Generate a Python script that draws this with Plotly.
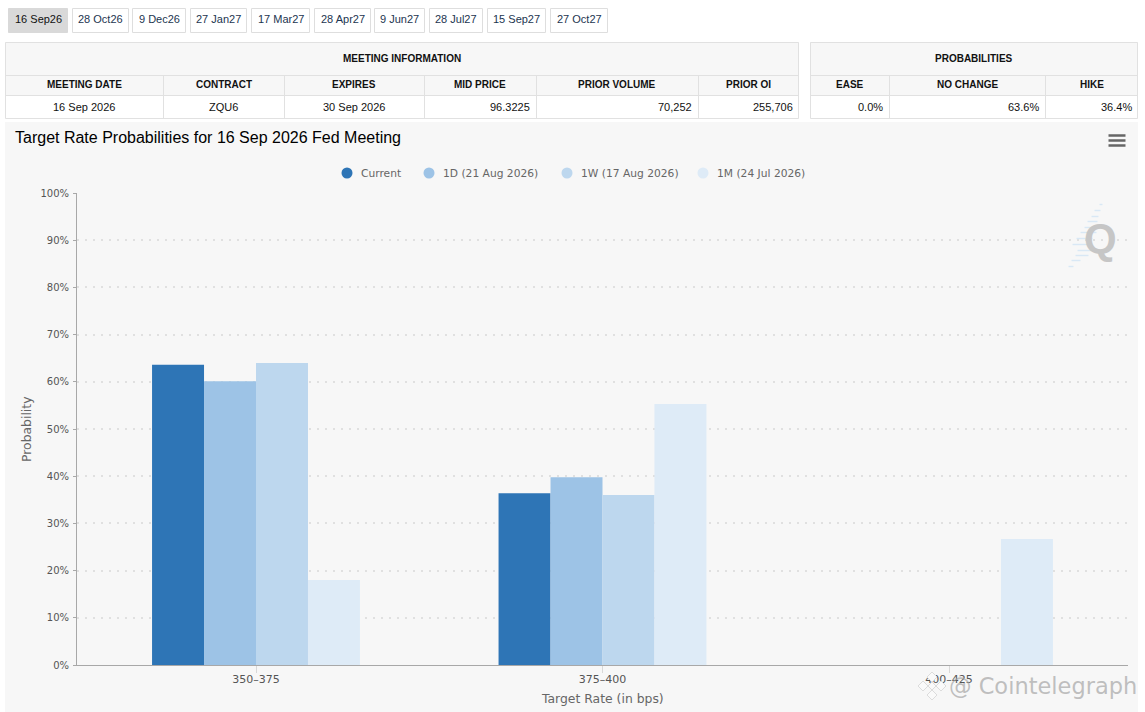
import plotly.graph_objects as go

# meeting tabs
meetings = ["16 Sep26", "28 Oct26", "9 Dec26", "27 Jan27", "17 Mar27", "28 Apr27", "9 Jun27", "28 Jul27", "15 Sep27", "27 Oct27"]
tab_edges = [(8, 68), (72, 129), (132, 186), (190, 247), (251, 310), (314, 371), (374, 425), (429, 483), (487, 546), (550, 608)]

# tables
info_heads = ["MEETING DATE", "CONTRACT", "EXPIRES", "MID PRICE", "PRIOR VOLUME", "PRIOR OI"]
info_cells = ["16 Sep 2026", "ZQU6", "30 Sep 2026", "96.3225", "70,252", "255,706"]
info_align = ["center", "center", "center", "right", "right", "right"]
info_cols = [5, 163, 284, 424, 536, 698, 799]
prob_heads = ["EASE", "NO CHANGE", "HIKE"]
prob_cells = ["0.0%", "63.6%", "36.4%"]
prob_cols = [810, 889, 1045, 1138]

# chart data
rates = ["350–375", "375–400", "400–425"]
current = [63.6, 36.4, 0]
day_1 = [60.1, 39.8, 0]
week_1 = [64.0, 36.0, 0]
month_1 = [18.0, 55.3, 26.7]

series_names = ["Current", "1D (21 Aug 2026)", "1W (17 Aug 2026)", "1M (24 Jul 2026)"]
series_vals = [current, day_1, week_1, month_1]
colors = ["#2e75b6", "#9dc3e6", "#bdd7ee", "#deebf7"]
legend_dots = [347, 429, 567, 703]

L, R, T, B = 77, 1128, 193, 665
W, H = 1145, 712


def px_x(p):
    return (p - L) / (R - L)


def px_y(p):
    return (B - p) / (B - T)


shapes = []
notes = []


def box(x0, y0, x1, y1, fill=None, line=None, layer="below", width=1):
    # half pixel offset keeps 1px borders crisp
    off = 0.5 if line else 0
    shapes.append(dict(type="rect", xref="paper", yref="paper", layer=layer,
                       x0=px_x(x0 + off), x1=px_x(x1 + off), y0=px_y(y0 + off), y1=px_y(y1 + off),
                       fillcolor=fill or "rgba(0,0,0,0)",
                       line=dict(color=line or "rgba(0,0,0,0)", width=width if line else 0)))


def seg(x0, y0, x1, y1, color="#e1e1e1", width=1, layer="below"):
    shapes.append(dict(type="line", xref="paper", yref="paper", layer=layer,
                       x0=px_x(x0 + 0.5), x1=px_x(x1 + 0.5), y0=px_y(y0 + 0.5), y1=px_y(y1 + 0.5),
                       line=dict(color=color, width=width)))


def label(x, y, text, size=11, color="#111", anchor="center", family="Liberation Sans", bold=False, **kw):
    notes.append(dict(xref="paper", yref="paper", x=px_x(x), y=px_y(y), text=f"<b>{text}</b>" if bold else text,
                      showarrow=False, xanchor=anchor, yanchor="middle", borderpad=0,
                      font=dict(size=size, color=color, family=family), **kw))


def diamond(cx, cy, r, fill="#fafafa", line="#dcdcdc"):
    path = f"M {px_x(cx - r)} {px_y(cy)} L {px_x(cx)} {px_y(cy - r)} L {px_x(cx + r)} {px_y(cy)} L {px_x(cx)} {px_y(cy + r)} Z"
    shapes.append(dict(type="path", xref="paper", yref="paper", layer="above", path=path,
                       fillcolor=fill, line=dict(color=line, width=1)))


# tabs
for i, (name, (a, b)) in enumerate(zip(meetings, tab_edges)):
    box(a, 8, b - 1, 32, fill="#d9d9d9" if i == 0 else "white", line="#d9d9d9" if i == 0 else "#dedede")
    label((a + b) / 2, 19.5, name, color="#111" if i == 0 else "#1c3550")


def table(cols, title, heads, cells, aligns):
    left, right = cols[0], cols[-1]
    box(left, 42, right, 95, fill="#f7f7f7")
    box(left, 42, right - 1, 118, line="#e1e1e1")
    seg(left, 75, right - 1, 75)
    seg(left, 95, right - 1, 95)
    for c in cols[1:-1]:
        seg(c, 75, c, 118)
    label((left + right) / 2, 58.5, title, size=10, bold=True)
    for i, head in enumerate(heads):
        mid = (cols[i] + cols[i + 1]) / 2
        label(mid, 85, head, size=10, bold=True)
        if aligns[i] == "right":
            label(cols[i + 1] - 5, 106.5, cells[i], anchor="right")
        else:
            label(mid, 106.5, cells[i])


table(info_cols, "MEETING INFORMATION", info_heads, info_cells, info_align)
table(prob_cols, "PROBABILITIES", prob_heads, prob_cells, ["right"] * 3)

# chart panel
box(5, 122, 1138, 712, fill="#f7f7f7")
label(14, 137, "Target Rate Probabilities for 16 Sep 2026 Fed Meeting", size=16, color="#000", anchor="left")

# menu icon
for y in (135, 140, 145):
    seg(1108, y, 1125, y, color="#666666", width=2.5)

# legend
for name, dot, col in zip(series_names, legend_dots, colors):
    shapes.append(dict(type="circle", xref="paper", yref="paper", layer="below",
                       x0=px_x(dot - 5.5), x1=px_x(dot + 5.5), y0=px_y(178.5), y1=px_y(167.5),
                       fillcolor=col, line=dict(width=0)))
    label(dot + 13, 173.5, name, size=10.7, color="#666666", anchor="left", family="DejaVu Sans")

# axis titles
label(602.5, 698, "Target Rate (in bps)", size=12.4, color="#666666", family="DejaVu Sans")
label(26, 429, "Probability", size=12.4, color="#666666", family="DejaVu Sans", textangle=-90)

# Q logo, top right
for y, x0, x1 in [(204, 1099, 1102), (210, 1094, 1100), (216, 1091, 1098), (221, 1087, 1097), (227, 1084, 1096),
                  (232, 1080, 1096), (238, 1076, 1092), (244, 1072, 1090), (250, 1077, 1092), (255, 1075, 1088),
                  (260, 1071, 1080), (266, 1068, 1073)]:
    seg(x0, y, x1, y, color="#d9e8f5", width=1.5, layer="above")
label(1100, 238, "Q", size=42, color="#c6c6c6", bold=True)

# watermark over the last tick label
for cx, cy, r in [(932, 677, 5), (923, 686, 5), (941, 686, 5), (932, 695, 5), (932, 686, 4)]:
    diamond(cx, cy, r)
label(948, 686, "@ Cointelegraph", size=22.5, color="rgba(165,165,165,0.7)", anchor="left", family="DejaVu Sans")

fig = go.Figure()
for name, vals, col in zip(series_names, series_vals, colors):
    fig.add_trace(go.Bar(x=rates, y=vals, name=name, marker=dict(color=col, line=dict(width=0))))

fig.update_layout(
    width=W, height=H,
    margin=dict(l=L, r=W - R, t=T, b=H - B),
    barmode="group", bargap=0.4, bargroupgap=0,
    showlegend=False,
    paper_bgcolor="white", plot_bgcolor="rgba(0,0,0,0)",
    font=dict(family="DejaVu Sans", size=11, color="#555555"),
    shapes=shapes, annotations=notes,
)
fig.update_xaxes(
    type="category", categoryorder="array", categoryarray=rates, automargin=False,
    range=[-0.5166, 2.5166], showgrid=False, showline=True, linecolor="#a8a8a8", linewidth=1,
    ticks="outside", ticklen=7, tickcolor="#d8d8d8", ticklabelstandoff=-3,
)
fig.update_yaxes(
    range=[0, 100], dtick=10, ticksuffix="%", showline=True, linecolor="#a8a8a8", linewidth=1, automargin=False,
    ticks="outside", ticklen=3, tickcolor="#a8a8a8", zeroline=False, ticklabelstandoff=2,
    tickfont=dict(size=10),
    gridcolor="#e0e0e0", griddash="2px,6px", gridwidth=1.5,
)

fig.write_html("out.html", config=dict(displayModeBar=False), post_script="document.body.style.margin='0';")
